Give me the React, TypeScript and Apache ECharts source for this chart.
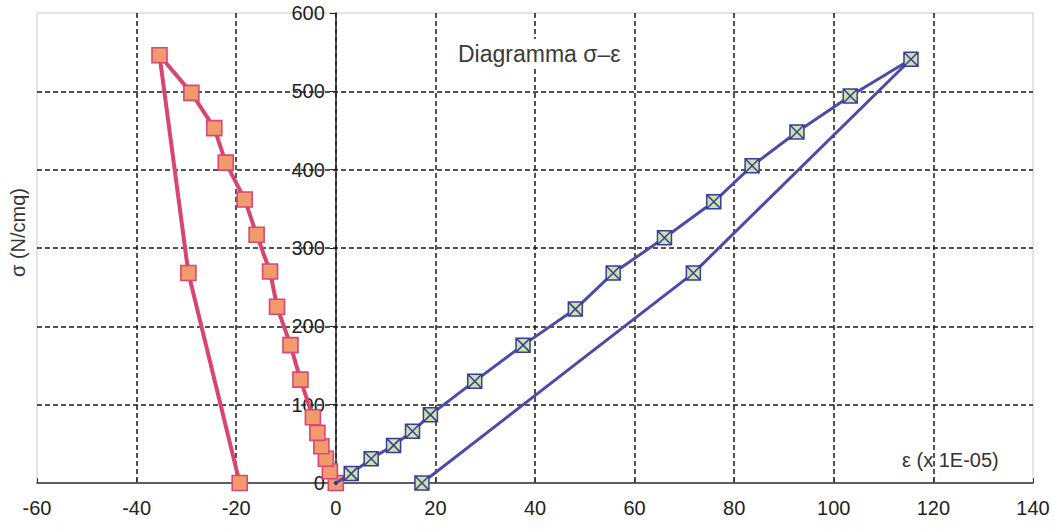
import React, { useEffect, useRef } from "react";
import * as echarts from "echarts";

// Tension branch (loading then unloading), strain x 1E-05 and stress N/cmq
const tensionStrain = [0, 3.1, 7.1, 11.6, 15.4, 19.0, 27.9, 37.6, 48.1, 55.7, 66.0, 75.9, 83.6, 92.6, 103.3, 115.5, 71.8, 17.3];
const tensionStress = [0, 12, 31, 48, 66, 87, 130, 176, 222, 268, 313, 359, 405, 448, 494, 541, 268, 0];

// Compression branch (loading then unloading)
const compressionStrain = [0, -1.2, -2.0, -2.9, -3.7, -4.6, -7.1, -9.1, -11.8, -13.2, -15.9, -18.3, -22.1, -24.4, -29.0, -35.4, -29.6, -19.3];
const compressionStress = [0, 15, 31, 47, 64, 84, 132, 176, 225, 270, 317, 362, 409, 453, 498, 546, 268, 0];

const xMin = -60;
const xMax = 140;
const xStep = 20;
const yMin = 0;
const yMax = 600;
const yStep = 100;

const titleText = "Diagramma σ–ε";
const xName = "ε (x 1E-05)";
const yName = "σ (N/cmq)";

const FONT = "'Liberation Sans', Arial, sans-serif";

const W = 1054;
const H = 529;
const GRID = { left: 37, right: 21, top: 13, bottom: 46 };

export default function App() {
  const ref = useRef<HTMLDivElement>(null);

  useEffect(() => {
    if (!ref.current) return;
    const chart = echarts.init(ref.current, null, { renderer: "svg" });

    const plotW = W - GRID.left - GRID.right;
    const zeroOffset = (plotW * (0 - xMin)) / (xMax - xMin);

    const tensionData = tensionStrain.map((x, i) =>
      i === 0
        ? { value: [x, tensionStress[i]], symbol: "circle", symbolSize: 4, itemStyle: { color: "#2c3aa0", borderWidth: 0 } }
        : { value: [x, tensionStress[i]] }
    );
    const compressionData = compressionStrain.map((x, i) => [x, compressionStress[i]]);

    chart.setOption({
      animation: false,
      backgroundColor: "#ffffff",
      title: {
        text: titleText,
        left: 453,
        top: 39,
        padding: [3, 5],
        backgroundColor: "#ffffff",
        textStyle: { fontFamily: FONT, fontSize: 23, fontWeight: "normal", color: "#3a3a3a" },
      },
      grid: {
        ...GRID,
        outerBoundsMode: "none",
        containLabel: false,
        show: true,
        borderColor: "#c8c8c8",
        borderWidth: 1,
        backgroundColor: "transparent",
      },
      xAxis: {
        type: "value",
        min: xMin,
        max: xMax,
        interval: xStep,
        axisLine: { onZero: false, lineStyle: { color: "#333", width: 1.5 } },
        axisTick: { show: true, inside: true, length: 5, lineStyle: { color: "#333" } },
        axisLabel: { fontFamily: FONT, fontSize: 20, color: "#222", margin: 15 },
        splitLine: {
          show: true,
          showMinLine: false,
          showMaxLine: false,
          lineStyle: { color: "#1a1a1a", width: 1.5, type: [5, 3] },
        },
      },
      yAxis: {
        type: "value",
        min: yMin,
        max: yMax,
        interval: yStep,
        position: "left",
        offset: -zeroOffset,
        axisLine: { show: true, onZero: false, lineStyle: { color: "#222", width: 1.5 } },
        axisTick: { show: true, inside: false, length: 6, lineStyle: { color: "#222" } },
        axisLabel: { fontFamily: FONT, fontSize: 20, color: "#222", margin: 11 },
        splitLine: {
          show: true,
          showMinLine: false,
          showMaxLine: false,
          lineStyle: { color: "#1a1a1a", width: 1.5, type: [5, 3] },
        },
      },
      graphic: [
        {
          type: "text",
          left: 902,
          top: 450,
          style: { text: xName, fontFamily: FONT, fontSize: 20, fill: "#333" },
        },
        {
          type: "text",
          x: 8,
          y: 277,
          rotation: Math.PI / 2,
          style: { text: yName, fontFamily: FONT, fontSize: 20, fill: "#333" },
        },
      ],
      series: [
        {
          type: "line",
          name: "compressione",
          data: compressionData,
          symbol: "rect",
          symbolSize: 15,
          lineStyle: { color: "#d8466f", width: 4 },
          itemStyle: { color: "#f19a6c", borderColor: "#d8467a", borderWidth: 1.6 },
          z: 3,
        },
        {
          type: "line",
          name: "trazione",
          data: tensionData,
          symbol: "path://M0,0H10V10H0ZM0,0L10,10M10,0L0,10",
          symbolSize: 14,
          lineStyle: { color: "#4b4ca8", width: 3 },
          itemStyle: { color: "#c9e3a8", borderColor: "#3a3c9a", borderWidth: 1.5 },
          z: 4,
        },
      ],
    });

    return () => chart.dispose();
  }, []);

  return (
    <div
      ref={ref}
      style={{ position: "fixed", left: 0, top: 0, width: W, height: H }}
    />
  );
}
